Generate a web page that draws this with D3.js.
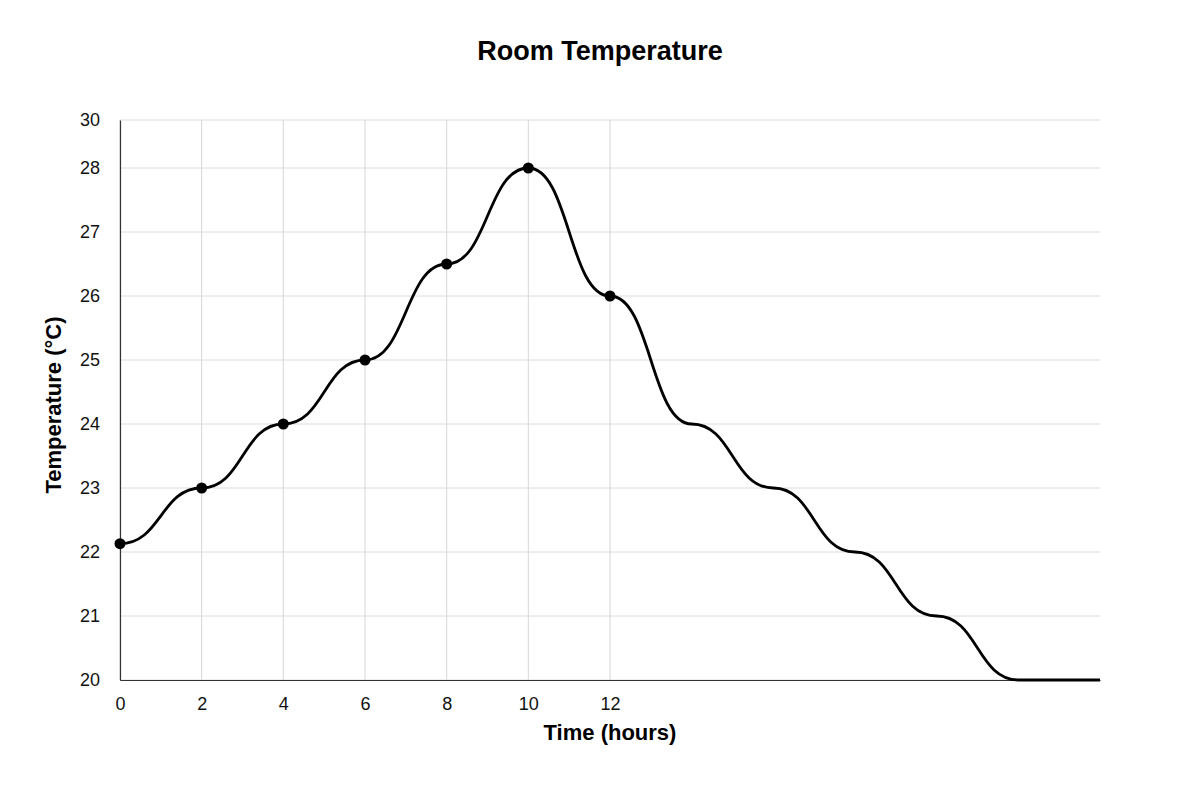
<!DOCTYPE html>
<html><head><meta charset="utf-8">
<script src="https://cdn.jsdelivr.net/npm/d3@7"></script>
<style>body{margin:0;background:#fff}text{font-family:"Liberation Sans",Arial,sans-serif}</style>
</head><body><svg id="c" width="1200" height="800"></svg>
<script>
const hours = [0,2,4,6,8,10,12,14,16,18,20,22,24];
const temps = [22.13,23,24,25,26.5,28,26,24,23,22,21,20,20];
const markedHours = [0,2,4,6,8,10,12];
const xTicks = [0,2,4,6,8,10,12];
const yTickValues = [20,21,22,23,24,25,26,27,28,28.75];
const yTickLabels = ["20","21","22","23","24","25","26","27","28","30"];

const svg = d3.select("#c");
const x = d3.scaleLinear().domain([0,24]).range([120,1100]);
const y = d3.scaleLinear().domain([20,28.75]).range([680,120]);

svg.append("g").selectAll("line").data(yTickValues).join("line")
  .attr("x1",120).attr("x2",1100).attr("y1",d=>y(d)).attr("y2",d=>y(d))
  .attr("stroke","#dcdcdc").attr("stroke-width",1);
svg.append("g").selectAll("line").data(xTicks).join("line")
  .attr("x1",d=>x(d)).attr("x2",d=>x(d)).attr("y1",120).attr("y2",680)
  .attr("stroke","#d6d6d6").attr("stroke-width",1);

const yAxis = svg.append("g").attr("transform","translate(120,0)")
  .call(d3.axisLeft(y).tickValues(yTickValues).tickSize(0).tickPadding(20)
    .tickFormat((d,i)=>yTickLabels[i]));
const xAxis = svg.append("g").attr("transform","translate(0,680)")
  .call(d3.axisBottom(x).tickValues(xTicks).tickSize(0).tickPadding(17));
[yAxis,xAxis].forEach(a=>{
  a.select(".domain").attr("stroke","#333").attr("stroke-width",1.2);
  a.selectAll("text").attr("font-size",18).attr("fill","#111")
   .style("font-family","Liberation Sans, Arial, sans-serif");
});

const data = hours.map((h,i)=>({h,t:temps[i]}));
svg.append("path").datum(data)
  .attr("d", d3.line().x(d=>x(d.h)).y(d=>y(d.t)).curve(d3.curveBumpX))
  .attr("fill","none").attr("stroke","#000").attr("stroke-width",2.8);

svg.append("g").selectAll("circle").data(data.filter(d=>markedHours.includes(d.h))).join("circle")
  .attr("cx",d=>x(d.h)).attr("cy",d=>y(d.t)).attr("r",5.5).attr("fill","#000");

svg.append("text").attr("x",600).attr("y",60).attr("text-anchor","middle")
  .attr("font-size",27).attr("font-weight","bold").text("Room Temperature");
svg.append("text").attr("x",610).attr("y",740).attr("text-anchor","middle")
  .attr("font-size",22).attr("font-weight","bold").text("Time (hours)");
svg.append("text").attr("transform","translate(61,405) rotate(-90)").attr("text-anchor","middle")
  .attr("font-size",22).attr("font-weight","bold").text("Temperature (°C)");
</script></body></html>
